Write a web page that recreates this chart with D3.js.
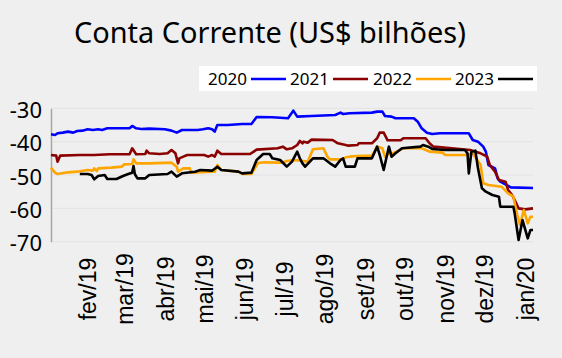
<!DOCTYPE html>
<html><head><meta charset="utf-8">
<script src="https://cdn.jsdelivr.net/npm/d3@7"></script>
<style>body{margin:0;background:#eeefee;overflow:hidden}</style>
</head><body><svg id="c" width="562" height="358"></svg>
<script>
const titleText = "Conta Corrente (US$ bilhões)";
const seriesNames = ["2020", "2021", "2022", "2023"];
const seriesColors = ["#0000ff", "#8b0000", "#ffa500", "#000000"];
const yTicks = [-30, -40, -50, -60, -70];
const monthTicks = ["2019-02-01","2019-03-01","2019-04-01","2019-05-01","2019-06-01","2019-07-01","2019-08-01","2019-09-01","2019-10-01","2019-11-01","2019-12-01","2020-01-01"];
const monthLabels = ["fev/19","mar/19","abr/19","mai/19","jun/19","jul/19","ago/19","set/19","out/19","nov/19","dez/19","jan/20"];

const dates2020 = ["2019-01-04","2019-01-07","2019-01-09","2019-01-13","2019-01-17","2019-01-21","2019-01-24","2019-01-28","2019-02-01","2019-02-05","2019-02-09","2019-02-12","2019-02-16","2019-03-05","2019-03-07","2019-03-10","2019-03-14","2019-03-20","2019-04-01","2019-04-06","2019-04-10","2019-04-14","2019-04-26","2019-04-30","2019-05-04","2019-05-07","2019-05-09","2019-05-11","2019-05-19","2019-05-30","2019-06-06","2019-06-10","2019-06-22","2019-07-04","2019-07-08","2019-07-11","2019-07-22","2019-08-09","2019-08-13","2019-08-15","2019-08-20","2019-09-06","2019-09-10","2019-09-14","2019-09-16","2019-09-21","2019-09-24","2019-10-08","2019-10-11","2019-10-14","2019-10-18","2019-10-22","2019-10-28","2019-11-19","2019-11-22","2019-11-26","2019-11-30","2019-12-02","2019-12-04","2019-12-09","2019-12-11","2019-12-13","2019-12-18","2019-12-21","2020-01-07"];
const vals2020 = [-37.8,-38,-37.5,-37.3,-37,-37.3,-36.8,-36.7,-36.3,-36.5,-36.3,-36.5,-36,-36,-35.3,-36,-36.2,-36.1,-36.3,-36.7,-37.3,-36.5,-36.5,-36.3,-36,-36.3,-37,-35,-35,-34.7,-34.7,-32.6,-32.7,-33,-30.7,-32.5,-32.3,-32,-31.3,-31.7,-31.5,-31.3,-31,-31,-32.3,-32.5,-33,-33,-34,-36,-37.3,-37.7,-37.5,-37.5,-39.5,-40,-41.5,-43,-47,-48,-51,-52,-53,-53.7,-53.9];

const dates2021 = ["2019-01-04","2019-01-08","2019-01-09","2019-01-11","2019-01-26","2019-02-06","2019-02-18","2019-03-05","2019-03-07","2019-03-10","2019-03-17","2019-03-18","2019-03-20","2019-03-28","2019-04-03","2019-04-06","2019-04-09","2019-04-11","2019-04-12","2019-04-15","2019-04-18","2019-05-01","2019-05-04","2019-05-07","2019-05-09","2019-05-11","2019-05-14","2019-06-05","2019-06-10","2019-06-26","2019-06-30","2019-07-03","2019-07-07","2019-07-11","2019-07-13","2019-07-15","2019-07-16","2019-07-19","2019-07-22","2019-08-07","2019-08-11","2019-08-17","2019-08-19","2019-08-26","2019-08-27","2019-09-06","2019-09-10","2019-09-12","2019-09-15","2019-09-18","2019-09-28","2019-09-30","2019-10-17","2019-10-20","2019-10-23","2019-11-20","2019-11-24","2019-11-28","2019-12-03","2019-12-05","2019-12-09","2019-12-12","2019-12-17","2019-12-19","2019-12-22","2019-12-24","2019-12-27","2020-01-01","2020-01-07"];
const vals2021 = [-44,-44.2,-46,-44.2,-44,-44,-43.8,-43.8,-42,-43.8,-43.7,-42.7,-43.5,-43.7,-43.5,-42.5,-43.5,-46.5,-45,-44.5,-44,-44,-44.5,-44,-44.5,-42.7,-43.7,-43.7,-42.4,-42,-41.5,-42.3,-42,-41,-39.8,-40.5,-40,-40.3,-39.4,-39.5,-40.5,-41,-41.2,-41,-40.5,-40.5,-39,-37.3,-37.3,-39.6,-39.6,-39,-39,-40.5,-41.5,-42.5,-43,-43.5,-44.5,-47,-49,-51.5,-52,-54.5,-56,-57.5,-60,-60.3,-60];

const dates2022 = ["2019-01-04","2019-01-07","2019-01-09","2019-01-17","2019-01-24","2019-02-01","2019-02-05","2019-02-06","2019-02-08","2019-02-09","2019-02-19","2019-02-27","2019-03-01","2019-03-07","2019-03-08","2019-03-10","2019-03-20","2019-04-06","2019-04-10","2019-04-11","2019-04-15","2019-04-20","2019-04-21","2019-05-07","2019-05-09","2019-05-11","2019-05-14","2019-05-27","2019-05-30","2019-06-06","2019-06-11","2019-06-16","2019-06-29","2019-07-03","2019-07-09","2019-07-15","2019-07-19","2019-07-23","2019-07-31","2019-08-03","2019-08-05","2019-08-14","2019-08-17","2019-08-20","2019-08-26","2019-09-06","2019-09-10","2019-09-14","2019-09-16","2019-09-18","2019-09-20","2019-09-21","2019-09-30","2019-10-14","2019-10-20","2019-10-30","2019-11-01","2019-11-17","2019-11-22","2019-11-28","2019-11-30","2019-12-04","2019-12-14","2019-12-19","2019-12-23","2019-12-26","2019-12-28","2019-12-31","2020-01-03","2020-01-05","2020-01-07"];
const vals2022 = [-47.8,-49.3,-49.7,-49.2,-49,-48.5,-48.7,-48,-48.8,-48,-47.8,-47.5,-46.8,-46.7,-45.3,-46.5,-46.5,-46.3,-47.5,-49,-48,-48,-49.3,-49,-49,-47,-48.5,-49,-49.7,-49.7,-46.4,-46.2,-46.3,-45.8,-45.5,-45.8,-46,-42.3,-42,-44.5,-45.3,-45.3,-44.7,-44.5,-44.3,-44.2,-41.5,-42,-44.5,-44,-43,-43.7,-42,-42,-43,-43.3,-44,-44,-43.5,-47,-52.5,-53,-53.5,-55.5,-56.5,-62,-65,-60.5,-64.5,-62.5,-62.5];

const dates2023 = ["2019-01-26","2019-02-01","2019-02-04","2019-02-06","2019-02-09","2019-02-14","2019-02-16","2019-02-23","2019-02-28","2019-03-04","2019-03-07","2019-03-08","2019-03-09","2019-03-11","2019-03-17","2019-03-20","2019-04-03","2019-04-06","2019-04-10","2019-04-14","2019-04-24","2019-04-28","2019-05-07","2019-05-11","2019-05-14","2019-05-27","2019-05-30","2019-06-06","2019-06-10","2019-06-15","2019-06-20","2019-06-22","2019-06-28","2019-07-03","2019-07-07","2019-07-11","2019-07-13","2019-07-15","2019-07-17","2019-07-23","2019-07-31","2019-08-05","2019-08-09","2019-08-13","2019-08-15","2019-08-17","2019-08-24","2019-08-26","2019-09-06","2019-09-10","2019-09-12","2019-09-15","2019-09-17","2019-09-19","2019-09-21","2019-09-24","2019-09-29","2019-10-13","2019-10-15","2019-10-19","2019-10-22","2019-11-01","2019-11-16","2019-11-18","2019-11-19","2019-11-21","2019-11-24","2019-11-26","2019-11-29","2019-12-02","2019-12-07","2019-12-12","2019-12-13","2019-12-23","2019-12-24","2019-12-27","2019-12-30","2020-01-03","2020-01-05","2020-01-07"];
const vals2023 = [-49.7,-49.7,-50,-51.3,-50.3,-50,-51.2,-51.2,-50.3,-49.7,-49.3,-47.3,-49.7,-51,-51,-50,-49.7,-49,-50.5,-49.5,-49,-48.5,-48.7,-47.5,-48.5,-49,-49.5,-49.3,-45.5,-43.7,-43.7,-45,-45.5,-47.5,-46,-43,-45,-46.5,-47.5,-45,-45,-46.5,-47.5,-45.5,-45,-47.5,-47.5,-45,-45,-41.5,-44,-48.5,-45,-41.5,-44.5,-43.5,-42,-41.5,-41,-41.5,-42.2,-42.5,-42.5,-43.5,-49.5,-43,-42.7,-48,-54,-55,-56,-56.5,-59.5,-59.5,-61.5,-69.5,-63.5,-69,-66.5,-66.5];

const allDates = [dates2020, dates2021, dates2022, dates2023];
const allVals = [vals2020, vals2021, vals2022, vals2023];

const parse = d3.utcParse("%Y-%m-%d");
const svg = d3.select("#c");
svg.append("rect").attr("width", 562).attr("height", 358).attr("fill", "#eeefee");

const x = d3.scaleUtc().domain([parse("2019-01-04"), parse("2020-01-07")]).range([51, 533]);
const y = d3.scaleLinear().domain([-70, -30]).range([241.7, 108.3]);

// title
const t = svg.append("text").attr("x", 74).attr("y", 43)
  .attr("font-family", "'Noto Sans', sans-serif").attr("font-size", 28).attr("fill", "#000")
  .text(titleText);
const tl = t.node().getComputedTextLength();
t.attr("font-size", 28 * 392 / tl);

// gridlines
svg.append("g").selectAll("line").data(yTicks).join("line")
  .attr("x1", 51).attr("x2", 533).attr("y1", d => y(d)).attr("y2", d => y(d))
  .attr("stroke", "#e3e3e3").attr("stroke-width", 1);

// y axis
const yAxis = d3.axisLeft(y).tickValues(yTicks).tickSize(0).tickPadding(9).tickFormat(d => String(d));
const yg = svg.append("g").attr("transform", "translate(51,0)").call(yAxis);
yg.select(".domain").attr("stroke", "#a6a6a6").attr("stroke-width", 1.5);
yg.selectAll("text").attr("font-family", "'Noto Sans', sans-serif").attr("font-size", 22).attr("fill", "#000").attr("dy", "0.42em");

// x axis labels
const xAxis = d3.axisBottom(x).tickValues(monthTicks.map(parse)).tickSize(0)
  .tickFormat((d, i) => monthLabels[i]);
const xg = svg.append("g").attr("transform", "translate(0,242)").call(xAxis);
xg.select(".domain").remove();
xg.selectAll("text").attr("font-family", "'Liberation Sans', Arial, sans-serif").attr("font-size", 23).attr("fill", "#000")
  .attr("transform", "rotate(-90)").attr("text-anchor", "middle")
  .attr("x", -47).attr("y", 0).attr("dy", "0.35em");

// lines
const line = d3.line().x(d => x(d[0])).y(d => y(d[1]));
allDates.forEach((ds, i) => {
  const pts = ds.map((d, j) => [parse(d), allVals[i][j]]);
  svg.append("path").datum(pts).attr("d", line).attr("fill", "none")
    .attr("stroke", seriesColors[i]).attr("stroke-width", 2.6).attr("stroke-linejoin", "round");
});

// legend
const lg = svg.append("g");
lg.append("rect").attr("x", 199).attr("y", 66).attr("width", 338).attr("height", 25).attr("fill", "#fff");
const legX = [208, 290, 373, 455];
seriesNames.forEach((n, i) => {
  lg.append("text").attr("x", legX[i]).attr("y", 85).attr("font-family", "'Noto Sans', sans-serif")
    .attr("font-size", 17).attr("fill", "#000").text(n);
  lg.append("line").attr("x1", legX[i] + 43).attr("x2", legX[i] + 78).attr("y1", 79).attr("y2", 79)
    .attr("stroke", seriesColors[i]).attr("stroke-width", 2.6);
});
</script></body></html>
